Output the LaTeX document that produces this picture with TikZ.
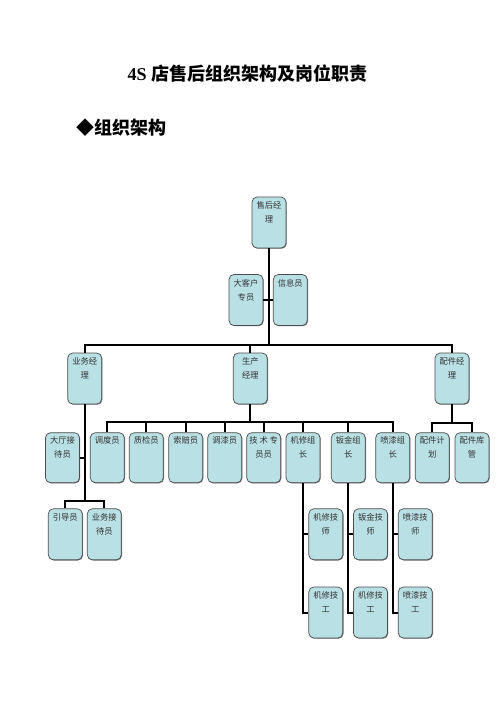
\documentclass[tikz,border=0pt]{standalone}
\usepackage{fontspec}
\setmainfont{Liberation Serif}
\newfontfamily\cjk{Noto Sans CJK SC}
\usetikzlibrary{shadows}
\definecolor{boxfill}{RGB}{185,224,228}
\newcommand{\postxt}[1]{\parbox[c][42pt][t]{32pt}{\centering\baselineskip=14pt #1}}
\tikzset{
  post/.style={draw=black!70, line width=0.7pt, fill=boxfill, rounded corners=5pt,
    minimum width=34pt, minimum height=51pt, inner sep=0pt,
    font=\cjk\fontsize{8.3}{14}\selectfont, text=black!80,
    drop shadow={shadow xshift=0.7pt, shadow yshift=-0.7pt, fill=black!55, opacity=1}},
  link/.style={line width=2pt}
}
\begin{document}
\begin{tikzpicture}[x=1pt,y=-1pt]
    \useasboundingbox[fill=white] (0,0) rectangle (496,702);
    \node (title) at (247.5,74) {\fontsize{18}{20}\selectfont\bfseries 4S {\cjk 店售后组织架构及岗位职责}};
    \node[anchor=west,inner sep=0pt] (sect) at (76.7,127.3) {\fontsize{18}{20}\selectfont\cjk\bfseries ◆组织架构};

    \node[post] (gm) at (269,222.5) {\postxt{售后经\\理}};
    \node[post] (vip) at (246,300) {\postxt{大客户\\专员}};
    \node[post] (info) at (290.3,300) {\postxt{信息员}};

    \node[post] (yw) at (84.7,378.5) {\postxt{业务经\\理}};
    \node[post] (sc) at (250.3,378.5) {\postxt{生产\\经理}};
    \node[post] (pj) at (452,378.5) {\postxt{配件经\\理}};

    \node[post,minimum height=50pt] (dt) at (62.5,457.7) {\postxt{大厅接\\待员}};
    \node[post,minimum height=50pt] (dd) at (107.3,457.7) {\postxt{调度员}};
    \node[post,minimum height=50pt] (zj) at (146.3,457.7) {\postxt{质检员}};
    \node[post,minimum height=50pt] (sp) at (185.7,457.7) {\postxt{索赔员}};
    \node[post,minimum height=50pt] (tq) at (224.7,457.7) {\postxt{调漆员}};
    \node[post,minimum height=50pt] (js) at (263.7,457.7) {\postxt{技\ 术\ 专\\员员}};
    \node[post,minimum height=50pt] (jx) at (303,457.7) {\postxt{机修组\\长}};
    \node[post,minimum height=50pt] (bj) at (348.3,457.7) {\postxt{钣金组\\长}};
    \node[post,minimum height=50pt] (pq) at (392.7,457.7) {\postxt{喷漆组\\长}};
    \node[post,minimum height=50pt] (jh) at (432.2,457.7) {\postxt{配件计\\划}};
    \node[post,minimum height=50pt] (kg) at (472,457.7) {\postxt{配件库\\管}};

    \node[post] (yd) at (65.3,534.3) {\postxt{引导员}};
    \node[post] (ywj) at (104.3,534.3) {\postxt{业务接\\待员}};
    \node[post] (jxs) at (325.8,534.3) {\postxt{机修技\\师}};
    \node[post] (bjs) at (370.5,534.3) {\postxt{钣金技\\师}};
    \node[post] (pqs) at (415.3,534.3) {\postxt{喷漆技\\师}};

    \node[post] (jxg) at (325.8,612.5) {\postxt{机修技\\工}};
    \node[post] (bjg) at (370.5,612.5) {\postxt{机修技\\工}};
    \node[post] (pqg) at (415.3,612.5) {\postxt{喷漆技\\工}};

    \coordinate (bus1) at (269,344.7);
    \coordinate (bus2) at (250.3,422.3);
    \coordinate (bus3) at (452,422.5);
    \coordinate (bus4) at (84.7,500.7);

    \draw[link] (gm.south) -- (bus1);
    \draw[link] (vip.east) -- (info.west);
    \draw[link] (yw.north) |- (bus1) -| (pj.north);
    \draw[link] (sc.north) -- (sc.north |- bus1);

    \draw[link] (sc.south) -- (bus2);
    \draw[link] (dd.north) |- (bus2) -| (pq.north);
    \foreach \n in {zj,sp,tq,js,jx,bj}
        \draw[link] (\n.north) -- (\n.north |- bus2);
    \draw[link] (pj.south) -- (bus3);
    \draw[link] (jh.north) |- (bus3) -| (kg.north);

    \draw[link] (yw.south) -- (bus4);
    \draw[link] (dt.east) -- (dt.east -| yw.south);
    \draw[link] (yd.north) |- (bus4) -| (ywj.north);

    \draw[link] (jx.south) |- (jxg.west);
    \draw[link] (jxs.west) -- (jxs.west -| jx.south);
    \draw[link] (bj.south) |- (bjg.west);
    \draw[link] (bjs.west) -- (bjs.west -| bj.south);
    \draw[link] (pq.south) |- (pqg.west);
    \draw[link] (pqs.west) -- (pqs.west -| pq.south);
\end{tikzpicture}
\end{document}
